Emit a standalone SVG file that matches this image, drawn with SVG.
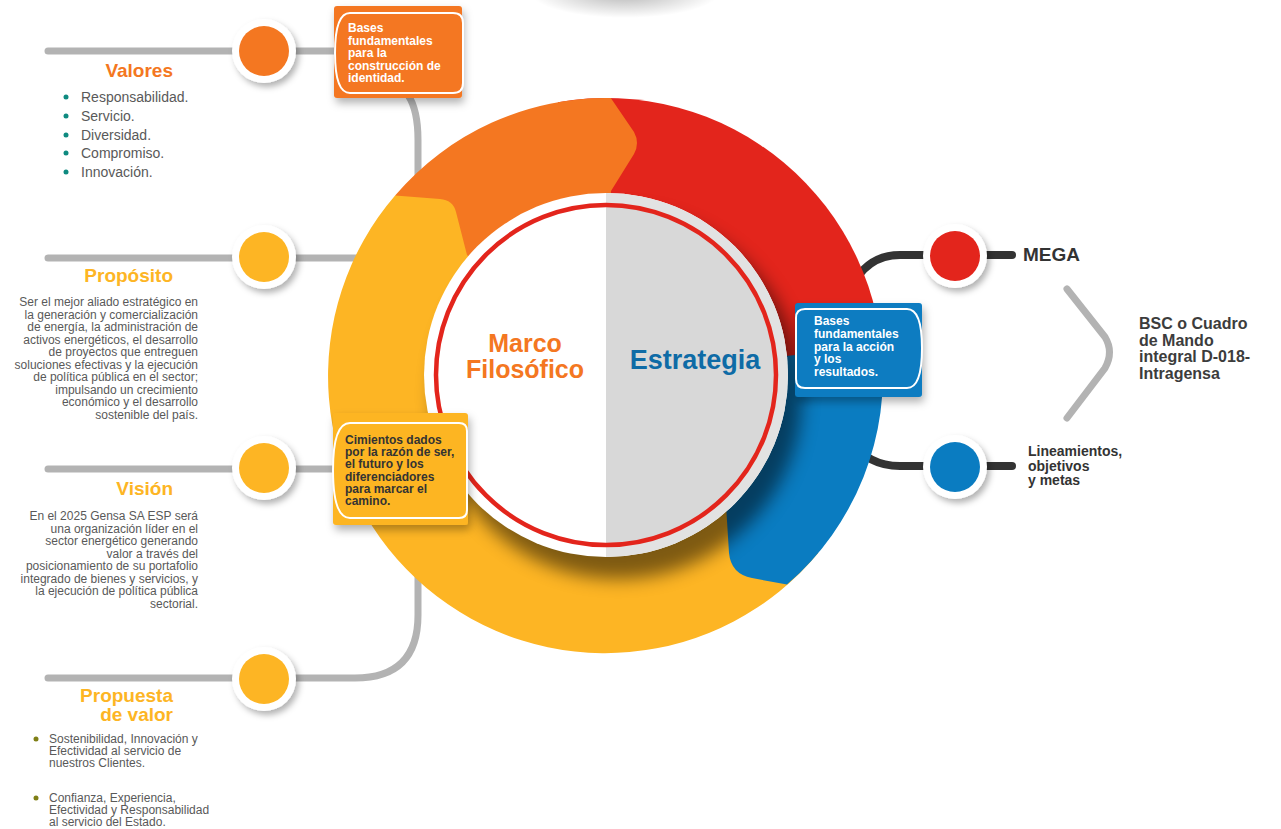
<svg xmlns="http://www.w3.org/2000/svg" width="1281" height="829" viewBox="0 0 1281 829">
<defs>
<style>
.gl{fill:none;stroke:#b3b3b3;stroke-width:7;stroke-linecap:round}
.dl{fill:none;stroke:#333333;stroke-width:8;stroke-linecap:round}
.nw{fill:#ffffff;filter:url(#sh)}
.t{font-family:"Liberation Sans",Arial,sans-serif}
.para{font-size:12px;fill:#595959;text-anchor:end}
.ttl{font-size:19px;font-weight:bold;text-anchor:end}
.bx{font-size:12px;font-weight:bold}
.li{font-size:14px;fill:#595959}
.li2{font-size:12px;fill:#595959}
.outl{fill:none;stroke:#ffffff;stroke-width:2}
</style>
<filter id="sh" x="-40%" y="-40%" width="180%" height="180%"><feDropShadow dx="3" dy="4" stdDeviation="3" flood-color="#000" flood-opacity="0.3"/></filter>
<filter id="bsh" x="-20%" y="-20%" width="140%" height="150%"><feDropShadow dx="2" dy="5" stdDeviation="4" flood-color="#000" flood-opacity="0.3"/></filter>
<filter id="blur" x="-20%" y="-20%" width="140%" height="140%"><feGaussianBlur stdDeviation="9"/></filter>
<radialGradient id="topsh" cx="0.5" cy="0.5" r="0.5">
<stop offset="0" stop-color="#000" stop-opacity="0.3"/>
<stop offset="1" stop-color="#000" stop-opacity="0"/>
</radialGradient>
</defs>
<rect width="1281" height="829" fill="#ffffff"/>
<ellipse cx="625" cy="-8" rx="95" ry="26" fill="url(#topsh)"/>

<g id="connectors">
<path class="gl" d="M48 51 L345 51"/>
<path class="gl" d="M48 258 L380 258"/>
<path class="gl" d="M48 469 L345 469"/>
<path class="gl" d="M408 95 Q418 110 418 140 L418 615 Q418 678 355 678 L48 678"/>
<path class="dl" d="M850 290 Q866 255 900 255 L930 255"/>
<path class="dl" d="M985 255 L1012 255"/>
<path class="dl" d="M850 440 Q868 466 900 466 L930 466"/>
<path class="dl" d="M985 466 L1012 466"/>
<path class="gl" stroke-width="8" d="M1067 289 L1105 337 Q1114 352 1105 368 L1067 418"/>
</g>

<g id="ring">
<path fill="#e3251c" d="M606 375 L557.9 102.2 A277 277 0 0 1 883 375 Z"/>
<path fill="#f47721" d="M606 375 L395.1 195.5 A277 277 0 0 1 610.8 98 L634 132 Q640 143 634 154 L611 191 Z"/>
<path fill="#fdb524" d="M606 375 L818.2 553.1 A277 277 0 1 1 395.1 195.5 L440 199 Q453 200 456 212 L467 255 Z"/>
<path fill="#0a7cc1" d="M606 375 L881.5 346 A277 277 0 0 1 787 584.6 L752 578 Q731 574 729 553 L726 505 Z"/>
<circle cx="618" cy="395" r="184" fill="#000" opacity="0.5" filter="url(#blur)"/>
</g>

<g id="center">
<circle cx="606" cy="375" r="182" fill="#ffffff"/>
<path d="M606 193 A182 182 0 0 1 606 557 Z" fill="#e2e2e2"/>
<path d="M606 207 A168 168 0 0 1 606 543 Z" fill="#d8d8d8"/>
<circle cx="606" cy="375" r="170" fill="none" stroke="#e3251c" stroke-width="4.5"/>
<text class="t" x="525" y="352" font-size="25" font-weight="bold" fill="#f47721" text-anchor="middle">Marco</text>
<text class="t" x="525" y="378" font-size="25" font-weight="bold" fill="#f47721" text-anchor="middle">Filosófico</text>
<text class="t" x="695" y="369" font-size="27" font-weight="bold" fill="#0e6ba6" text-anchor="middle">Estrategia</text>
</g>

<g id="box-identidad">
<rect x="334" y="6" width="128" height="92" rx="3" fill="#f47721" filter="url(#bsh)"/>
<path class="outl" d="M350 13 L453 13 Q463 13 463 23 L463 83 Q463 93 453 93 L350 93 Q335 93 335 53 Q335 13 350 13 Z"/>
<text class="t bx" fill="#ffffff"><tspan x="348" y="32">Bases</tspan><tspan x="348" y="44.5">fundamentales</tspan><tspan x="348" y="57">para la</tspan><tspan x="348" y="69.5">construcción de</tspan><tspan x="348" y="82">identidad.</tspan></text>
</g>

<g id="box-cimientos">
<rect x="333" y="413" width="135" height="112" rx="3" fill="#fdb524" filter="url(#bsh)"/>
<path class="outl" d="M350 423 L459 423 Q467 423 467 431 L467 510 Q467 518 459 518 L350 518 Q333 518 333 470 Q333 423 350 423 Z"/>
<text class="t bx" fill="#333333"><tspan x="345" y="444">Cimientos dados</tspan><tspan x="345" y="456.2">por la razón de ser,</tspan><tspan x="345" y="468.4">el futuro y los</tspan><tspan x="345" y="480.6">diferenciadores</tspan><tspan x="345" y="492.8">para marcar el</tspan><tspan x="345" y="505">camino.</tspan></text>
</g>

<g id="box-accion">
<rect x="795" y="303" width="127" height="94" rx="3" fill="#0a7cc1" filter="url(#bsh)"/>
<path class="outl" d="M805 309 L907 309 Q922 309 922 348 Q922 388 907 388 L805 388 Q796 388 796 379 L796 318 Q796 309 805 309 Z"/>
<text class="t bx" fill="#ffffff"><tspan x="814" y="325">Bases</tspan><tspan x="814" y="338">fundamentales</tspan><tspan x="814" y="350.5">para la acción</tspan><tspan x="814" y="363">y los</tspan><tspan x="814" y="376">resultados.</tspan></text>
</g>

<g id="node-valores">
<circle class="nw" cx="264" cy="51" r="32"/>
<circle cx="264" cy="51" r="25" fill="#f47721"/>
<text class="t ttl" x="173" y="77" fill="#f47721">Valores</text>
<g fill="#0e8a80"><circle cx="66" cy="97" r="2.5"/><circle cx="66" cy="116" r="2.5"/><circle cx="66" cy="135" r="2.5"/><circle cx="66" cy="153" r="2.5"/><circle cx="66" cy="172" r="2.5"/></g>
<text class="t li"><tspan x="81" y="102">Responsabilidad.</tspan><tspan x="81" y="121">Servicio.</tspan><tspan x="81" y="140">Diversidad.</tspan><tspan x="81" y="158">Compromiso.</tspan><tspan x="81" y="177">Innovación.</tspan></text>
</g>

<g id="node-proposito">
<circle class="nw" cx="264" cy="257" r="32"/>
<circle cx="264" cy="257" r="25" fill="#fdb524"/>
<text class="t ttl" x="173" y="282" fill="#fdb524">Propósito</text>
<text class="t para"><tspan x="198" y="306">Ser el mejor aliado estratégico en</tspan><tspan x="198" y="318.5">la generación y comercialización</tspan><tspan x="198" y="331">de energía, la administración de</tspan><tspan x="198" y="343.5">activos energéticos, el desarrollo</tspan><tspan x="198" y="356">de proyectos que entreguen</tspan><tspan x="198" y="368.5">soluciones efectivas y la ejecución</tspan><tspan x="198" y="381">de política pública en el sector;</tspan><tspan x="198" y="393.5">impulsando un crecimiento</tspan><tspan x="198" y="406">económico y el desarrollo</tspan><tspan x="198" y="418.5">sostenible del país.</tspan></text>
</g>

<g id="node-vision">
<circle class="nw" cx="264" cy="468" r="32"/>
<circle cx="264" cy="468" r="25" fill="#fdb524"/>
<text class="t ttl" x="173" y="495" fill="#fdb524">Visión</text>
<text class="t para"><tspan x="198" y="520">En el 2025 Gensa SA ESP será</tspan><tspan x="198" y="532.5">una organización líder en el</tspan><tspan x="198" y="545">sector energético generando</tspan><tspan x="198" y="557.5">valor a través del</tspan><tspan x="198" y="570">posicionamiento de su portafolio</tspan><tspan x="198" y="582.5">integrado de bienes y servicios, y</tspan><tspan x="198" y="595">la ejecución de política pública</tspan><tspan x="198" y="607.5">sectorial.</tspan></text>
</g>

<g id="node-propuesta">
<circle class="nw" cx="264" cy="679" r="32"/>
<circle cx="264" cy="679" r="25" fill="#fdb524"/>
<text class="t ttl" fill="#fdb524"><tspan x="173" y="702">Propuesta</tspan><tspan x="173" y="721">de valor</tspan></text>
<g fill="#7f7f16"><circle cx="36" cy="739" r="2.5"/><circle cx="36" cy="798" r="2.5"/></g>
<text class="t li2"><tspan x="49" y="743">Sostenibilidad, Innovación y</tspan><tspan x="49" y="755">Efectividad al servicio de</tspan><tspan x="49" y="767">nuestros Clientes.</tspan><tspan x="49" y="802">Confianza, Experiencia,</tspan><tspan x="49" y="814">Efectividad y Responsabilidad</tspan><tspan x="49" y="826">al servicio del Estado.</tspan></text>
</g>

<g id="node-mega">
<circle class="nw" cx="955" cy="256" r="32"/>
<circle cx="955" cy="256" r="25" fill="#e3251c"/>
<text class="t" x="1023" y="261" font-size="19" font-weight="bold" fill="#333333">MEGA</text>
</g>

<g id="node-lineamientos">
<circle class="nw" cx="955" cy="467" r="32"/>
<circle cx="955" cy="467" r="25" fill="#0a7cc1"/>
<text class="t" font-size="14" font-weight="bold" fill="#333333"><tspan x="1028" y="456">Lineamientos,</tspan><tspan x="1028" y="471">objetivos</tspan><tspan x="1028" y="485">y metas</tspan></text>
</g>

<g id="node-bsc">
<text class="t" font-size="16" font-weight="bold" fill="#3c3c3c"><tspan x="1139" y="329">BSC o Cuadro</tspan><tspan x="1139" y="345.7">de Mando</tspan><tspan x="1139" y="362.4">integral D-018-</tspan><tspan x="1139" y="379">Intragensa</tspan></text>
</g>
</svg>
